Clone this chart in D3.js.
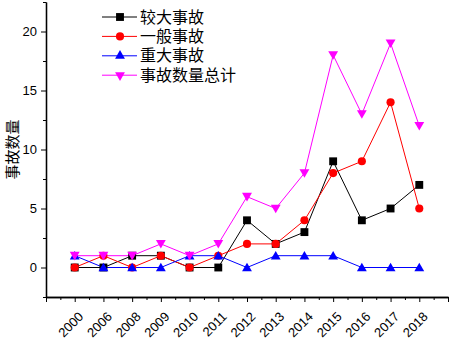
<!DOCTYPE html>
<html lang="zh">
<head>
<meta charset="UTF-8">
<title>事故数量</title>
<style>
  body { margin: 0; background: #fff; }
  svg { display: block; }
  .tick-label { font-family: "Liberation Sans", Arial, sans-serif; font-size: 13px; fill: #000; }
  .cjk { font-family: "Noto Sans CJK SC", sans-serif; fill: #000; }
</style>
</head>
<body>
<div id="chart"></div>
<script src="https://cdnjs.cloudflare.com/ajax/libs/d3/7.8.5/d3.min.js"></script>
<script>
// data
const years = ["2000", "2006", "2008", "2009", "2010", "2011", "2012", "2013", "2014", "2015", "2016", "2017", "2018"];
const major = [0, 0, 1, 1, 0, 0, 4, 2, 3, 9, 4, 5, 7];       // 较大事故
const general = [0, 1, 0, 1, 0, 1, 2, 2, 4, 8, 9, 14, 5];     // 一般事故
const serious = [1, 0, 0, 0, 1, 1, 0, 1, 1, 1, 0, 0, 0];      // 重大事故
const total = [1, 1, 1, 2, 1, 2, 6, 5, 8, 18, 13, 19, 12];    // 事故数量总计
const yTicks = [0, 5, 10, 15, 20];

const series = [
  { name: "较大事故", values: major, color: "#000000", sym: d3.symbolSquare, size: 62, rot: 0 },
  { name: "一般事故", values: general, color: "#ff0000", sym: d3.symbolCircle, size: 52, rot: 0 },
  { name: "重大事故", values: serious, color: "#0000ff", sym: d3.symbolTriangle, size: 42, rot: 0 },
  { name: "事故数量总计", values: total, color: "#ff00ff", sym: d3.symbolTriangle, size: 42, rot: 180 }
];

const W = 454, H = 342;
const mLeft = 46, mRight = 448, mTop = 2, mBottom = 297;

const svg = d3.select("#chart").append("svg")
  .attr("width", W).attr("height", H);

const x = d3.scaleLinear().domain([-1, 13]).range([mLeft, mRight]);
const y = d3.scaleLinear().domain([-2.5, 22.5]).range([mBottom, mTop]);

// y axis, outward major + minor ticks
const yAxis = svg.append("g").attr("transform", `translate(${mLeft},0)`);
yAxis.call(d3.axisLeft(y).tickValues(yTicks).tickSize(5).tickPadding(4).tickSizeOuter(0));
yAxis.append("g").call(d3.axisLeft(y).tickValues(d3.range(-2.5, 22.6, 5)).tickSize(3).tickFormat("").tickSizeOuter(0));
yAxis.selectAll(".domain").attr("stroke", "#000").attr("stroke-width", 1.3);
yAxis.selectAll("text").attr("class", "tick-label").attr("font-size", null).attr("font-family", null);

// x axis
const idx = d3.range(-1, 14);
const xAxis = svg.append("g").attr("transform", `translate(0,${mBottom})`);
xAxis.call(d3.axisBottom(x).tickValues(idx).tickSize(5).tickFormat("").tickSizeOuter(0));
xAxis.append("g").call(d3.axisBottom(x).tickValues(d3.range(-0.5, 13, 1)).tickSize(3).tickFormat("").tickSizeOuter(0));
xAxis.selectAll(".domain").attr("stroke", "#000").attr("stroke-width", 1.3);

xAxis.selectAll(".year")
  .data(years)
  .join("text")
  .attr("class", "tick-label")
  .attr("text-anchor", "end")
  .attr("transform", (d, i) => `translate(${x(i) + 3},${14}) rotate(-45)`)
  .attr("dy", "0.7em")
  .text(d => d);

// y label
svg.append("text")
  .attr("class", "cjk")
  .attr("font-size", 15)
  .attr("text-anchor", "middle")
  .attr("transform", `translate(18,${y(10)}) rotate(-90)`)
  .text("事故数量");

// lines and markers
const line = d3.line().x((d, i) => x(i)).y(d => y(d));
series.forEach(s => {
  svg.append("path")
    .attr("d", line(s.values))
    .attr("fill", "none")
    .attr("stroke", s.color)
    .attr("stroke-width", 1);
});
series.forEach(s => {
  svg.append("g").selectAll("path")
    .data(s.values)
    .join("path")
    .attr("d", d3.symbol().type(s.sym).size(s.size))
    .attr("transform", (d, i) => `translate(${x(i)},${y(d) + (s.sym === d3.symbolTriangle ? (s.rot ? -1 : 1) : 0)}) rotate(${s.rot})`)
    .attr("fill", s.color);
});

// legend
const lg = svg.append("g").attr("transform", "translate(102,17)");
series.forEach((s, i) => {
  const row = lg.append("g").attr("transform", `translate(0,${i * 19.4})`);
  row.append("line").attr("x1", 0).attr("x2", 35).attr("stroke", s.color).attr("stroke-width", 1);
  row.append("path")
    .attr("d", d3.symbol().type(s.sym).size(s.size))
    .attr("transform", `translate(18,0) rotate(${s.rot})`)
    .attr("fill", s.color);
  row.append("text")
    .attr("class", "cjk")
    .attr("font-size", 16)
    .attr("x", 38)
    .attr("dy", "0.35em")
    .text(s.name);
});
</script>
</body>
</html>
